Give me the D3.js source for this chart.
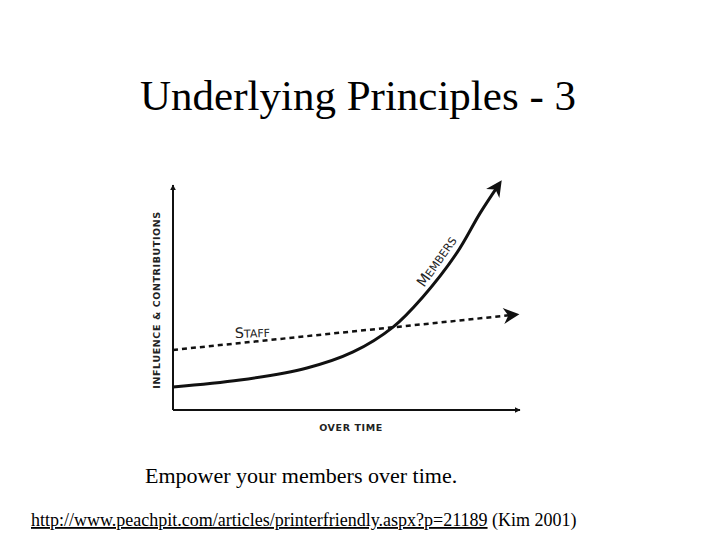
<!DOCTYPE html>
<html><head><meta charset="utf-8">
<script src="https://cdn.jsdelivr.net/npm/d3@7"></script>
<style>body{margin:0;background:#fff}</style>
</head><body>
<div id="chart"></div>
<script>
// data (arbitrary units)
var membersX = [0, 19.3, 38.6, 51.9, 63.4, 72, 81.8, 88.5, 93.7];
var membersY = [10.5, 13.6, 19.1, 26.4, 37.7, 51.4, 71.4, 89.5, 102];
var staffX = [0, 98];
var staffY = [27.3, 43.2];

var svg = d3.select("#chart").append("svg").attr("width", 720).attr("height", 540);

var defs = svg.append("defs");
defs.append("marker").attr("id", "arr").attr("viewBox", "0 0 10 10")
  .attr("refX", 9).attr("refY", 5).attr("markerWidth", 6).attr("markerHeight", 6)
  .attr("markerUnits", "userSpaceOnUse").attr("orient", "auto")
  .append("path").attr("d", "M0,0L10,5L0,10z").attr("fill", "#111");
defs.append("marker").attr("id", "big").attr("viewBox", "0 0 10 10")
  .attr("refX", 6).attr("refY", 5).attr("markerWidth", 18).attr("markerHeight", 16)
  .attr("markerUnits", "userSpaceOnUse").attr("orient", "auto")
  .append("path").attr("d", "M0,0L10,5L0,10L3,5z").attr("fill", "#111");

var x = d3.scaleLinear().domain([0, 100]).range([173, 520]);
var y = d3.scaleLinear().domain([0, 100]).range([410, 190]);

svg.append("text").attr("x", 358).attr("y", 110).attr("text-anchor", "middle")
  .attr("font-family", "Liberation Serif").attr("font-size", 43).text("Underlying Principles - 3");

// axes
svg.append("line").attr("x1", x(0)).attr("y1", y(0)).attr("x2", x(0)).attr("y2", y(100) - 5)
  .attr("stroke", "#111").attr("stroke-width", 2).attr("marker-end", "url(#arr)");
svg.append("line").attr("x1", x(0)).attr("y1", y(0)).attr("x2", x(100)).attr("y2", y(0))
  .attr("stroke", "#111").attr("stroke-width", 2).attr("marker-end", "url(#arr)");

var line = d3.line().curve(d3.curveCatmullRom).x(d => x(d[0])).y(d => y(d[1]));

svg.append("path").attr("d", line(d3.zip(staffX, staffY))).attr("fill", "none")
  .attr("stroke", "#111").attr("stroke-width", 2.5).attr("stroke-dasharray", "5,4")
  .attr("marker-end", "url(#big)");
svg.append("path").attr("d", line(d3.zip(membersX, membersY))).attr("fill", "none")
  .attr("stroke", "#111").attr("stroke-width", 3).attr("marker-end", "url(#big)");

function sc(t, xx, yy, rot, size) {
  var g = svg.append("text").attr("font-family", "DejaVu Sans").attr("fill", "#222")
    .attr("font-size", size).attr("transform", "translate(" + xx + "," + yy + ") rotate(" + rot + ")");
  g.append("tspan").attr("font-size", size * 1.3).text(t[0]);
  g.append("tspan").text(t.slice(1));
}
sc("STAFF", 235, 338, -2, 11);
sc("MEMBERS", 424, 288, -55, 11);

svg.append("text").attr("transform", "translate(160,300) rotate(-90)").attr("text-anchor", "middle")
  .attr("font-family", "DejaVu Sans").attr("font-weight", "bold").attr("font-size", 9.5).attr("fill", "#222")
  .attr("letter-spacing", 0.6).text("INFLUENCE & CONTRIBUTIONS");
svg.append("text").attr("x", 351).attr("y", 431).attr("text-anchor", "middle")
  .attr("font-family", "DejaVu Sans").attr("font-weight", "bold").attr("font-size", 9.5).attr("fill", "#222")
  .attr("letter-spacing", 0.6).text("OVER TIME");

svg.append("text").attr("x", 145).attr("y", 483).attr("font-family", "Liberation Serif")
  .attr("font-size", 22).text("Empower your members over time.");
var ln = svg.append("text").attr("x", 31).attr("y", 526).attr("font-family", "Liberation Serif").attr("font-size", 18);
ln.append("tspan").attr("text-decoration", "underline").text("http://www.peachpit.com/articles/printerfriendly.aspx?p=21189");
ln.append("tspan").text(" (Kim 2001)");
</script>
</body></html>
